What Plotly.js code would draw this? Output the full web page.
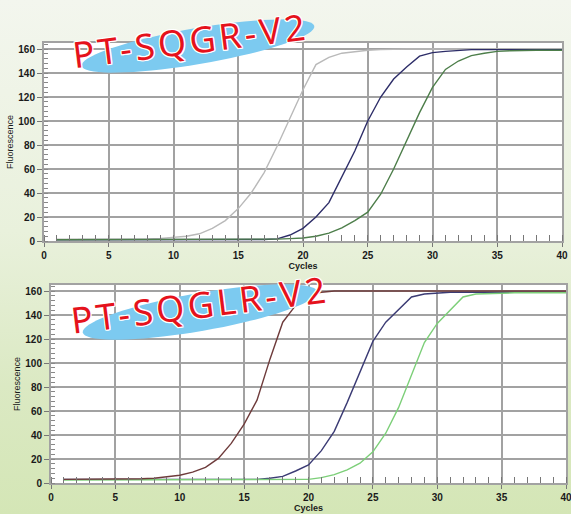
<!DOCTYPE html>
<html>
<head>
<meta charset="utf-8">
<script src="https://cdn.plot.ly/plotly-3.0.1.min.js"></script>
<style>
  html, body { margin: 0; padding: 0; }
  body { width: 571px; height: 514px; overflow: hidden;
         background: linear-gradient(to bottom, #f3f6ee 0%, #e9f1dc 45%, #dbe9c3 75%, #d4e6b6 100%); }
  #chart { width: 571px; height: 514px; }
  .annotation-text { letter-spacing: 3.5px; }
</style>
</head>
<body>
<div id="chart"></div>
<script>
// ---- data ----
const cycles = [1,2,3,4,5,6,7,8,9,10,11,12,13,14,15,16,17,18,19,20,21,22,23,24,25,26,27,28,29,30,31,32,33,34,35,36,37,38,39,40];

// Top chart: PT-SQGR-V2
const topGray  = [1.5,1.5,1.5,1.5,1.5,1.5,1.6,1.8,2.2,3,4,6,10.5,17,27,40,57,79,103,126,147,153,156.5,158,159,159.5,160,160,160,160,160,160,160,160,160,160,160,160,160,160];
const topNavy  = [1,1,1,1,1,1,1,1,1,1,1,1,1,1,1,1,1.2,1.8,5,10.5,20,32,53,75,100,120,135,145,154,157,158,159,159.5,159.5,159.5,159.5,159.5,159.5,159.5,159.5];
const topGreen = [1,1,1,1,1,1,1,1.6,1.6,1.6,1.6,1.6,1.6,1.6,1.6,1.6,1.6,1.6,2,2.5,4,6.5,11,17,24,39,60,84,107,128,143,150,154.5,156.5,158,158.5,159,159,159,159];

// Bottom chart: PT-SQGLR-V2
const botBrown = [3,3,3,3,3,3,3.5,4,5,6.5,9,13,20.5,33,49,69,103,134,148,157,159,160,160,160,160,160,160,160,160,160,160,160,160,160,160,160,160,160,160,160];
const botNavy  = [3,3,3,3,3,3,3,3,3,3,3,3,3,3,3,3,4,5.5,10,15,27,43,67,93,118,134,144.5,155,157.5,158.5,159,159,159,159,159,159,159,159,159,159];
const botGreen = [2.5,2.5,2.5,2.5,2.5,2.5,2.5,2.5,2.5,2.5,2.5,2.5,2.5,2.5,2.5,2.5,2.5,2.5,2.8,3,4.5,7,11,16.5,26,41.5,63,90,117,133,144,155,157.5,158,158.5,158.5,158.5,158.5,158.5,158.5];

const xTickVals = [0,5,10,15,20,25,30,35,40];
const yTickVals = [0,20,40,60,80,100,120,140,160];
const labelTop = 'PT-SQGR-V2';
const labelBot = 'PT-SQGLR-V2';
const xTitle = 'Cycles';
const yTitle = 'Fluorescence';

// ---- figure ----
const W = 571, H = 514;
const px = v => v / W;
const py = v => 1 - v / H;

function line(x, y, color, xa, ya) {
  return { x: x, y: y, type: 'scatter', mode: 'lines', xaxis: xa, yaxis: ya,
           line: { color: color, width: 1.4 }, hoverinfo: 'skip' };
}

const traces = [
  line(cycles, topGray,  '#b9b9b9', 'x', 'y'),
  line(cycles, topNavy,  '#2d2d68', 'x', 'y'),
  line(cycles, topGreen, '#4d7e4a', 'x', 'y'),
  line(cycles, botNavy,  '#3b3b74', 'x2', 'y2'),
  line(cycles, botGreen, '#7ccf78', 'x2', 'y2'),
  line(cycles, botBrown, '#6e3b3b', 'x2', 'y2')
];

const tickFont = { family: 'Liberation Sans, Arial, sans-serif', size: 10, color: '#1a1a1a', weight: 'bold' };
const gridC = '#a2a2a2';

function xAxis(domain, anchor) {
  return {
    domain: domain, anchor: anchor, range: [0, 40], tickvals: xTickVals,
    showgrid: true, gridcolor: gridC, gridwidth: 2, zeroline: false,
    showline: true, linecolor: gridC, linewidth: 2, mirror: true,
    ticks: 'outside', ticklen: 4, tickcolor: '#777', tickwidth: 1,
    minor: { dtick: 1, tick0: 0, ticks: 'inside', ticklen: 6, tickcolor: '#777', tickwidth: 1, showgrid: false },
    tickfont: tickFont, ticklabeloverflow: 'allow',
    title: { text: xTitle, standoff: 1, font: { family: 'Liberation Sans, Arial, sans-serif', size: 9, color: '#1a1a1a', weight: 'bold' } },
    fixedrange: true
  };
}
function yAxis(domain, anchor) {
  return {
    domain: domain, anchor: anchor, range: [0, 165], tickvals: yTickVals,
    showgrid: true, gridcolor: gridC, gridwidth: 2, zeroline: false,
    showline: true, linecolor: gridC, linewidth: 2, mirror: true,
    ticks: 'outside', ticklen: 5, tickcolor: '#777', tickwidth: 1,
    minor: { dtick: 4, tick0: 0, ticks: 'inside', ticklen: 4, tickcolor: '#888', tickwidth: 1, showgrid: false },
    tickfont: tickFont, ticklabeloverflow: 'allow',
    title: { text: yTitle, standoff: 3, font: { family: 'Liberation Sans, Arial, sans-serif', size: 9, color: '#1a1a1a' } },
    fixedrange: true
  };
}

// rotated ellipse (decoration) as a paper-space path
function ellipsePath(cx, cy, a, b, deg) {
  const t = deg * Math.PI / 180, n = 72;
  let d = '';
  for (let i = 0; i <= n; i++) {
    const u = 2 * Math.PI * i / n;
    const ex = a * Math.cos(u), ey = b * Math.sin(u);
    const X = cx + ex * Math.cos(t) - ey * Math.sin(t);
    const Y = cy + ex * Math.sin(t) + ey * Math.cos(t);
    d += (i === 0 ? 'M' : 'L') + px(X).toFixed(5) + ',' + py(Y).toFixed(5);
  }
  return d + 'Z';
}

const labelFont = { family: 'Noto Sans, Open Sans, sans-serif', size: 36, color: '#e5121c',
  shadow: '1px 1px 0 #fff, -1px -1px 0 #fff, 1px -1px 0 #fff, -1px 1px 0 #fff, 0 1px 0 #fff, 0 -1px 0 #fff, 1px 0 0 #fff, -1px 0 0 #fff' };

const layout = {
  width: W, height: H,
  margin: { l: 0, r: 0, t: 0, b: 0 },
  paper_bgcolor: 'rgba(0,0,0,0)',
  plot_bgcolor: '#ffffff',
  showlegend: false,
  xaxis:  xAxis([px(44), px(562)], 'y'),
  yaxis:  yAxis([py(241), py(43)], 'x'),
  xaxis2: xAxis([px(51), px(566)], 'y2'),
  yaxis2: yAxis([py(483), py(285)], 'x2'),
  shapes: [
    { type: 'path', xref: 'paper', yref: 'paper', path: ellipsePath(198, 46, 118, 18, -9.7),
      fillcolor: '#7ccaf0', line: { width: 0 }, layer: 'above' },
    { type: 'path', xref: 'paper', yref: 'paper', path: ellipsePath(200, 312, 119, 19, -9.9),
      fillcolor: '#7ccaf0', line: { width: 0 }, layer: 'above' }
  ],
  annotations: [
    { text: labelTop, xref: 'paper', yref: 'paper', x: px(190), y: py(41), xanchor: 'center', yanchor: 'middle',
      showarrow: false, textangle: -7, font: labelFont },
    { text: labelBot, xref: 'paper', yref: 'paper', x: px(200), y: py(304), xanchor: 'center', yanchor: 'middle',
      showarrow: false, textangle: -7, font: labelFont }
  ]
};

Plotly.newPlot('chart', traces, layout, { displayModeBar: false, staticPlot: true });
</script>
</body>
</html>
